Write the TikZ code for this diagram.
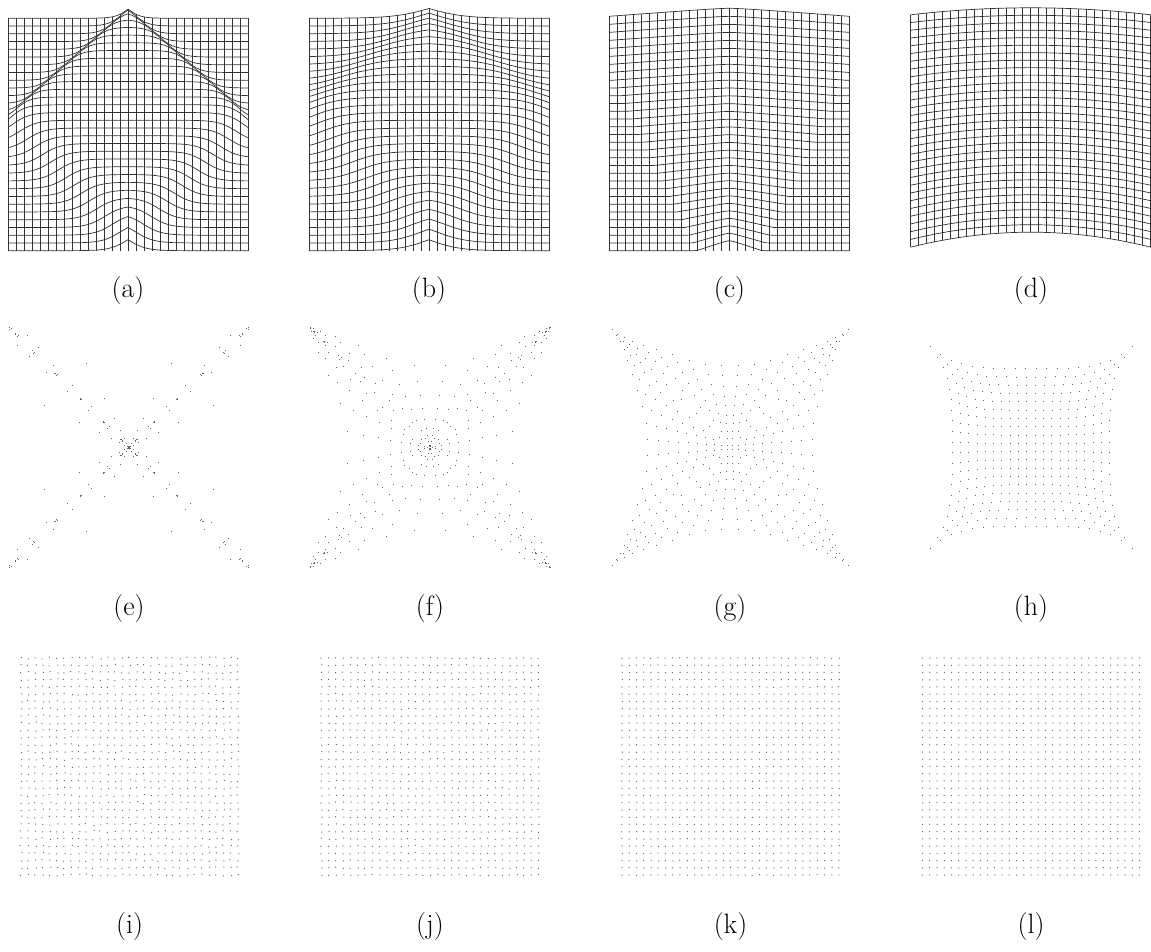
\documentclass[tikz,border=0pt]{standalone}
\tikzset{
  gridline/.style={draw=black!80, line width=0.7pt},
  dotfill/.style={fill=black!60},
  lab/.style={font=\fontsize{28}{34}\selectfont, inner sep=0pt},
}
% warped grid: uses declared function Dp(X,Y); #1,#2 origin; #3 = 1 to move bottom ends
\newcommand{\drawwarp}[3]{%
  \foreach \jj in {0,...,30}{%
    \pgfmathsetmacro{\Yo}{\jj*232.4/30}%
    \draw[gridline] plot[domain=0:240, samples=61, variable=\u] ({#1+\u},{#2+\Yo-Dp(\u,\Yo)});
  }%
  \foreach \ii in {0,...,30}{%
    \pgfmathsetmacro{\Xo}{\ii*8}%
    \pgfmathsetmacro{\Ytop}{#3==1 ? -Dp(\Xo,0) : min(0,-Dp(\Xo,0))}%
    \pgfmathsetmacro{\Ybot}{232.4-#3*Dp(\Xo,232.4)}%
    \draw[gridline] (#1+\Xo,#2+\Ytop) -- (#1+\Xo,#2+\Ybot);
  }%
}
% warped dots (20x20 grid): blend of a polar-type warp and a pinch warp
\newcommand{\warpdots}[2]{%
  \foreach \ii in {0,...,19}{%
    \foreach \jj in {0,...,19}{%
      \pgfmathsetmacro{\px}{(\ii-9.5)/9.5}%
      \pgfmathsetmacro{\py}{(\jj-9.5)/9.5}%
      \pgfmathsetmacro{\mA}{max(abs(\px),abs(\py))}%
      \pgfmathsetmacro{\mB}{min(abs(\px),abs(\py))}%
      \pgfmathsetmacro{\phv}{\mA==\mB ? 45 : 45*(1-pow(1-\mB,\nang))}%
      \pgfmathsetmacro{\rv}{ra(\mA)+(1.4142*rc(\mA)-ra(\mA))*pow(\phv/45,\kpsi)}%
      \pgfmathsetmacro{\cA}{\rv*cos(\phv)}%
      \pgfmathsetmacro{\cB}{\rv*sin(\phv)}%
      \pgfmathsetmacro{\qx}{(abs(\px)>=abs(\py) ? \cA : \cB)*(\px<0 ? -1 : 1)}%
      \pgfmathsetmacro{\qy}{(abs(\px)>=abs(\py) ? \cB : \cA)*(\py<0 ? -1 : 1)}%
      \pgfmathsetmacro{\pinx}{\px*(\pa+(1-\pa)*pow(abs(\py),\pn))}%
      \pgfmathsetmacro{\piny}{\py*(\pa+(1-\pa)*pow(abs(\px),\pn))}%
      \fill[dotfill] ({#1-0.5+\Rad*(\lam*\qx+(1-\lam)*\pinx)},{#2-0.5+\Rad*(\lam*\qy+(1-\lam)*\piny)}) rectangle +(1,1);
    }%
  }%
}
% jittered regular dots, one path per panel
\newcommand{\jitterdots}[3]{% cx cy amp
  \fill[dotfill] \foreach \ii in {-15,...,15}{%
    \foreach \jj in {-15,...,15}{%
      ({#1-0.5+\ii*7.233+#3*rand},{#2-0.5+\jj*7.233+#3*rand}) rectangle +(1,1)
    }%
  };%
}
\begin{document}
\begin{tikzpicture}[x=1pt, y=-1pt,
  declare function={sigm(\t)=1/(1+exp(-max(min(\t,9),-9)));
                    sstep(\t)=\t*\t*(3-2*\t);}]
\useasboundingbox (0,0) rectangle (1151,952);
\fill[white] (0,0) rectangle (1151,952);
\pgfmathsetseed{11}
% ---------- row 1 ----------
\begin{scope}[declare function={envv(\X)=2+0.88*abs(\X-120);
   Dp(\X,\Y)=22*sigm((232.4-\Y-abs(\X-120))/9)*sigm((\Y-envv(\X))/6);}]
  \drawwarp{8}{18.3}{0}
\end{scope}
\begin{scope}[declare function={envv(\X)=3+0.75*abs(\X-120);
   Dp(\X,\Y)=22*sigm((232.4-\Y-abs(\X-120))/15)*sigm((\Y-envv(\X))/14);}]
  \drawwarp{309}{18.3}{0}
\end{scope}
\begin{scope}[declare function={tq(\X,\Y)=abs(\X-120)/(135-0.4518*\Y);
   Dp(\X,\Y)=(10-10*(\Y/232.4)+10*(\Y/232.4)*(\Y/232.4))*max(0,1-tq(\X,\Y)*tq(\X,\Y)/(tq(\X,\Y)+0.1));}]
  \drawwarp{609.3}{18.3}{0}
\end{scope}
\begin{scope}[declare function={Dp(\X,\Y)=3.5+(7+8*\Y/232.4)*(1-((\X-120)/120)^2);}]
  \drawwarp{910.7}{18.3}{1}
\end{scope}
% ---------- row 2 ----------
\begin{scope}[declare function={ra(\m)=0.7*pow(\m,6.5); rc(\m)=sstep(max(0,(\m-0.25)/0.75));}]
  \def\Rad{120}\def\nang{16.5}\def\kpsi{4}\def\lam{1}\def\pa{0.78}\def\pn{4}
  \warpdots{129}{447.5}
\end{scope}
\begin{scope}[declare function={ra(\m)=0.69*pow(\m,2); rc(\m)=sstep(\m);}]
  \def\Rad{120}\def\nang{5}\def\kpsi{3}\def\lam{1}\def\pa{0.78}\def\pn{4}
  \warpdots{430}{447.5}
\end{scope}
\begin{scope}[declare function={ra(\m)=0.7*pow(\m,1.5); rc(\m)=sstep(\m);}]
  \def\Rad{118}\def\nang{3.2}\def\kpsi{3}\def\lam{0.55}\def\pa{0.7}\def\pn{3}
  \warpdots{730}{447.5}
\end{scope}
\begin{scope}[declare function={ra(\m)=\m; rc(\m)=\m;}]
  \def\Rad{101}\def\nang{3}\def\kpsi{3}\def\lam{0}\def\pa{0.78}\def\pn{4}
  \warpdots{1031}{447.5}
\end{scope}
% ---------- row 3 ----------
\jitterdots{129.5}{766.5}{1.0}
\jitterdots{430}{766.5}{0.7}
\jitterdots{730.5}{766.5}{0.35}
\jitterdots{1031}{766.5}{0.15}
% ---------- labels ----------
\node[lab] (la) at (128,291) {(a)};
\node[lab] (lb) at (429,291) {(b)};
\node[lab] (lc) at (729.5,291) {(c)};
\node[lab] (ld) at (1031,291) {(d)};
\node[lab] (le) at (129,609) {(e)};
\node[lab] (lf) at (430,609) {(f)};
\node[lab] (lg) at (730,609) {(g)};
\node[lab] (lh) at (1031,609) {(h)};
\node[lab] (li) at (129.5,927) {(i)};
\node[lab] (lj) at (430,927) {(j)};
\node[lab] (lk) at (730.5,927) {(k)};
\node[lab] (ll) at (1031,927) {(l)};
\end{tikzpicture}
\end{document}
